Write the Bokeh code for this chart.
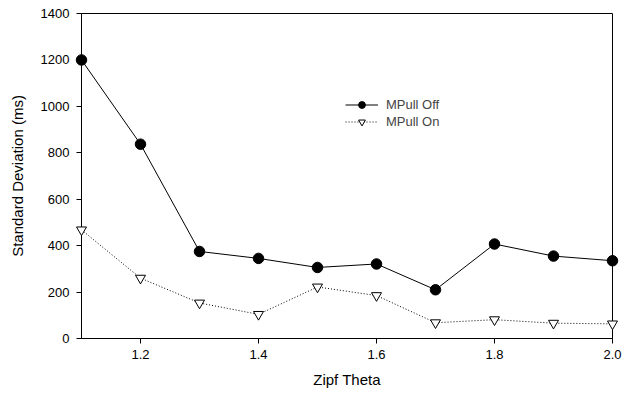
from bokeh.plotting import figure
from bokeh.embed import file_html
from bokeh.resources import INLINE
from bokeh.models import Range1d, FixedTicker, Legend, NumeralTickFormatter

theta = [1.1, 1.2, 1.3, 1.4, 1.5, 1.6, 1.7, 1.8, 1.9, 2.0]
mpull_off = [1200, 837, 375, 345, 306, 321, 210, 407, 355, 335]
mpull_on = [468, 260, 153, 104, 222, 185, 68, 81, 66, 63]
x_ticks = [1.2, 1.4, 1.6, 1.8, 2.0]
y_ticks = [0, 200, 400, 600, 800, 1000, 1200, 1400]

FONT = "Liberation Sans"

p = figure(width=622, height=395, output_backend="svg", toolbar_location=None,
           x_range=Range1d(1.1, 2.0), y_range=Range1d(0, 1400),
           min_border_left=81, min_border_right=10, min_border_top=13, min_border_bottom=57)
p.grid.visible = False
p.outline_line_color = "black"
p.outline_line_width = 1
p.background_fill_color = "white"
p.border_fill_color = "white"

l1 = p.line(theta, mpull_off, line_color="black", line_width=1)
s1 = p.scatter(theta, mpull_off, marker="circle", size=10.5, fill_color="black", line_color="black",
               level="overlay")
l2 = p.line(theta, mpull_on, line_color="black", line_width=1, line_dash="1 2")
s2 = p.scatter(theta, mpull_on, marker="inverted_triangle", size=10, fill_color="white", line_color="black",
               level="overlay")

legend = Legend(items=[("MPull Off", [l1, s1]), ("MPull On", [l2, s2])],
                location=(264, 208), padding=0, margin=0, spacing=0,
                glyph_width=33, glyph_height=17, label_height=17, label_standoff=8,
                border_line_color=None, background_fill_alpha=0,
                label_text_font=FONT, label_text_font_size="13px")
p.add_layout(legend, "center")

for ax in (p.xaxis[0], p.yaxis[0]):
    ax.major_label_text_font = FONT
    ax.major_label_text_font_size = "13px"
    ax.major_label_text_color = "black"
    ax.axis_label_text_font = FONT
    ax.axis_label_text_font_size = "15px"
    ax.axis_label_text_font_style = "normal"
    ax.axis_label_text_color = "black"
    ax.axis_line_color = "black"
    ax.major_tick_line_color = "black"
    ax.major_tick_out = 5
    ax.major_tick_in = 0
    ax.minor_tick_line_color = None

p.xaxis[0].ticker = FixedTicker(ticks=x_ticks)
p.xaxis[0].formatter = NumeralTickFormatter(format="0.0")
p.yaxis[0].ticker = FixedTicker(ticks=y_ticks)
p.xaxis[0].axis_label = "Zipf Theta"
p.yaxis[0].axis_label = "Standard Deviation (ms)"
p.xaxis[0].major_label_standoff = 6
p.yaxis[0].major_label_standoff = 7
p.xaxis[0].axis_label_standoff = 9
p.yaxis[0].axis_label_standoff = 12

open("out.html", "w").write(file_html(p, INLINE))
